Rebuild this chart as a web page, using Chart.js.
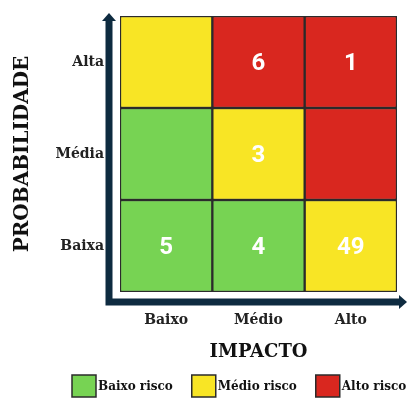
<!DOCTYPE html>
<html>
<head>
<meta charset="utf-8">
<script src="https://cdn.jsdelivr.net/npm/chart.js@4"></script>
<style>
  body { margin: 0; background: #fff; }
  #wrap { width: 409px; height: 398px; }
</style>
</head>
<body>
<div id="wrap"><canvas id="matriz"></canvas></div>
<script>
// eixo x: impacto, eixo y: probabilidade
const impacto = ['Baixo', 'Médio', 'Alto'];
const probabilidade = ['Baixa', 'Média', 'Alta'];

// quantidade de riscos em cada célula (null = vazio)
const qtdBaixa = [5, 4, 49];
const qtdMedia = [null, 3, null];
const qtdAlta = [null, 6, 1];

// nível de risco de cada célula
const nivelBaixa = ['baixo', 'baixo', 'medio'];
const nivelMedia = ['baixo', 'medio', 'alto'];
const nivelAlta = ['medio', 'alto', 'alto'];

const niveis = ['baixo', 'medio', 'alto'];
const legendaNomes = ['Baixo risco', 'Médio risco', 'Alto risco'];
const cores = { baixo: '#77d353', medio: '#f8e525', alto: '#d9271f' };

const serif = "'DejaVu Serif', serif";
const azul = '#0e2b40';
const borda = '#2b2b2b';

function linha(nome, qtd, nivel) {
    return {
        label: nome,
        data: impacto.map(() => 1),
        qtd: qtd,
        backgroundColor: nivel.map(n => cores[n]),
        borderColor: borda,
        borderWidth: 1.5,
        borderSkipped: false,
        barPercentage: 1,
        categoryPercentage: 1
    };
}

// setas dos eixos
const setas = {
    id: 'setas',
    beforeDatasetsDraw(chart) {
        const {ctx, chartArea: a} = chart;
        const x0 = a.left - 11;
        const y0 = a.bottom + 10;
        ctx.save();
        ctx.strokeStyle = azul;
        ctx.fillStyle = azul;
        ctx.lineWidth = 7;
        ctx.beginPath();
        ctx.moveTo(x0, a.top + 4);
        ctx.lineTo(x0, y0);
        ctx.lineTo(a.right + 2, y0);
        ctx.stroke();
        // ponta de cima
        ctx.beginPath();
        ctx.moveTo(x0, a.top - 3);
        ctx.lineTo(x0 - 7, a.top + 5);
        ctx.lineTo(x0 + 7, a.top + 5);
        ctx.closePath();
        ctx.fill();
        // ponta da direita
        ctx.beginPath();
        ctx.moveTo(a.right + 10, y0);
        ctx.lineTo(a.right + 2, y0 - 7);
        ctx.lineTo(a.right + 2, y0 + 7);
        ctx.closePath();
        ctx.fill();
        ctx.restore();
    }
};

// números dentro das células
const numeros = {
    id: 'numeros',
    afterDatasetsDraw(chart) {
        const ctx = chart.ctx;
        ctx.save();
        ctx.fillStyle = '#ffffff';
        ctx.font = "bold 24px Roboto, sans-serif";
        ctx.textAlign = 'center';
        ctx.textBaseline = 'middle';
        chart.data.datasets.forEach((ds, i) => {
            chart.getDatasetMeta(i).data.forEach((bar, j) => {
                const v = ds.qtd[j];
                if (v == null) return;
                ctx.fillText(String(v), bar.x, (bar.y + bar.base) / 2 + 2);
            });
        });
        ctx.restore();
    }
};

// legenda com os três níveis, embaixo do título do eixo x
const legenda = {
    id: 'legenda',
    afterDraw(chart) {
        const {ctx, chartArea: a} = chart;
        const y = chart.height - 12;
        let x = a.left - 48;
        ctx.save();
        ctx.font = "bold 12px " + serif;
        ctx.textBaseline = 'middle';
        ctx.textAlign = 'left';
        niveis.forEach((n, i) => {
            ctx.fillStyle = cores[n];
            ctx.strokeStyle = borda;
            ctx.lineWidth = 1.5;
            ctx.fillRect(x, y - 11, 24, 22);
            ctx.strokeRect(x, y - 11, 24, 22);
            x += 26;
            ctx.fillStyle = '#111';
            ctx.fillText(legendaNomes[i], x, y + 1);
            x += ctx.measureText(legendaNomes[i]).width + 19;
        });
        ctx.restore();
    }
};

new Chart(document.getElementById('matriz'), {
    type: 'bar',
    data: {
        labels: impacto,
        datasets: [
            linha(probabilidade[0], qtdBaixa, nivelBaixa),
            linha(probabilidade[1], qtdMedia, nivelMedia),
            linha(probabilidade[2], qtdAlta, nivelAlta)
        ]
    },
    options: {
        responsive: true,
        maintainAspectRatio: false,
        animation: false,
        layout: { padding: { top: 16, right: 12, left: 0, bottom: 26 } },
        scales: {
            x: {
                stacked: true,
                grid: { display: false, drawTicks: false },
                border: { display: false },
                ticks: { padding: 20, color: '#222', font: { family: serif, size: 14, weight: 'bold' } },
                title: {
                    display: true,
                    text: 'IMPACTO',
                    color: '#111',
                    font: { family: serif, size: 18, weight: 'bold' },
                    padding: { top: 0, bottom: 9 }
                },
                afterFit(scale) { scale.height = 80; }
            },
            y: {
                stacked: true,
                min: 0,
                max: 3,
                grid: { display: false, drawTicks: false },
                border: { display: false },
                afterBuildTicks(scale) {
                    scale.ticks = probabilidade.map((p, i) => ({ value: i + 0.5 }));
                },
                ticks: {
                    padding: 16,
                    color: '#222',
                    font: { family: serif, size: 14, weight: 'bold' },
                    callback: (v) => probabilidade[Math.floor(v)]
                },
                title: {
                    display: true,
                    text: 'PROBABILIDADE',
                    color: '#111',
                    font: { family: serif, size: 20, weight: 'bold' },
                    padding: { top: 11, bottom: 0 }
                },
                afterFit(scale) {
                    scale.width = 120;
                    scale.paddingTop = 0;
                    scale.paddingBottom = 0;
                }
            }
        },
        plugins: {
            tooltip: { enabled: false },
            legend: { display: false }
        }
    },
    plugins: [setas, numeros, legenda]
});
</script>
</body>
</html>
